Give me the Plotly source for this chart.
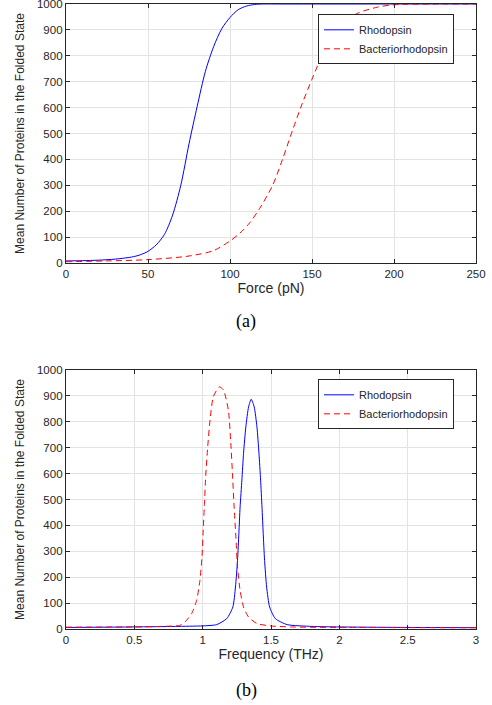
import plotly.graph_objects as go

# ---- (a) Force sweep ----
force_rho = [0, 10, 20, 30, 40, 45, 50, 55, 60, 65, 70, 75, 80, 85, 90, 95, 100, 105, 110, 115, 120, 130, 150, 200, 250]
rho_force = [8, 9, 11, 15, 23, 31, 45, 70, 110, 185, 300, 460, 605, 740, 835, 905, 948, 978, 992, 998, 1000, 1000, 1000, 1000, 1000]

force_br = [0, 25, 50, 75, 90, 100, 106, 112, 118, 126, 132, 138, 144, 150, 155, 160, 167, 177, 190, 200, 225, 250]
br_force = [5, 8, 13, 27, 48, 85, 115, 155, 210, 300, 400, 510, 615, 710, 785, 850, 915, 962, 988, 997, 1000, 1000]

# ---- (b) Frequency sweep ----
freq_rho = [0, 0.5, 0.8, 1.0, 1.103, 1.176, 1.221, 1.240, 1.255, 1.265, 1.274, 1.287, 1.299, 1.316, 1.336, 1.355,
            1.377, 1.397, 1.412, 1.424, 1.434, 1.443, 1.453, 1.468, 1.490, 1.532, 1.618, 1.8, 2.0, 2.5, 3.0]
rho_freq = [6, 8, 10, 12, 17, 40, 85, 162, 265, 369, 472, 575, 678, 781, 858, 887,
            858, 781, 678, 575, 472, 369, 265, 162, 85, 40, 17, 10, 8, 6, 5]

freq_br = [0, 0.5, 0.7, 0.833, 0.870, 0.919, 0.956, 0.980, 0.995, 1.005, 1.012, 1.022, 1.037, 1.054, 1.078, 1.122,
           1.152, 1.188, 1.206, 1.218, 1.230, 1.243, 1.255, 1.274, 1.299, 1.336, 1.397, 1.495, 1.642, 2.0, 3.0]
br_freq = [7, 8, 10, 14, 27, 59, 111, 188, 278, 394, 472, 588, 704, 807, 897, 935,
           923, 845, 716, 600, 472, 356, 240, 149, 85, 46, 21, 12, 8, 6, 5]

y_ticks = [0, 100, 200, 300, 400, 500, 600, 700, 800, 900, 1000]
force_ticks = [0, 50, 100, 150, 200, 250]
freq_ticks = [0, 0.5, 1, 1.5, 2, 2.5, 3]
freq_tick_labels = ["0", "0.5", "1", "1.5", "2", "2.5", "3"]

names = ["Rhodopsin", "Bacteriorhodopsin"]
BLUE = "#0000ff"
RED = "#ff0000"
AX = "#262626"
GRID = "#e3e3e3"
FONT = "Liberation Sans"

fig = go.Figure()
fig.add_trace(go.Scatter(x=force_rho, y=rho_force, mode="lines", name=names[0],
                         line=dict(color=BLUE, width=1, shape="spline", smoothing=0.8),
                         xaxis="x", yaxis="y", legend="legend"))
fig.add_trace(go.Scatter(x=force_br, y=br_force, mode="lines", name=names[1],
                         line=dict(color=RED, width=1, dash="6px,4px", shape="spline", smoothing=0.8),
                         xaxis="x", yaxis="y", legend="legend"))
fig.add_trace(go.Scatter(x=freq_rho, y=rho_freq, mode="lines", name=names[0],
                         line=dict(color=BLUE, width=1, shape="spline", smoothing=0.6),
                         xaxis="x2", yaxis="y2", legend="legend2"))
fig.add_trace(go.Scatter(x=freq_br, y=br_freq, mode="lines", name=names[1],
                         line=dict(color=RED, width=1, dash="6px,4px", shape="spline", smoothing=0.6),
                         xaxis="x2", yaxis="y2", legend="legend2"))

common_axis = dict(showline=True, linecolor=AX, linewidth=1.3, mirror="ticks",
                   ticks="inside", ticklen=4, tickcolor=AX, tickwidth=1,
                   showgrid=True, gridcolor=GRID, gridwidth=1, zeroline=False,
                   automargin=False, ticklabeloverflow="allow",
                   tickfont=dict(family=FONT, size=11.5, color=AX))

ytitle = dict(text="Mean Number of Proteins in the Folded State",
              font=dict(family=FONT, size=12, color=AX), standoff=9)

legend_common = dict(xanchor="left", yanchor="top",
                     bgcolor="white", bordercolor=AX, borderwidth=1,
                     font=dict(family=FONT, size=11, color=AX), tracegroupgap=0)

fig.update_layout(
    width=492, height=705,
    margin=dict(l=66, r=16, t=4, b=76, autoexpand=False),
    paper_bgcolor="white", plot_bgcolor="white",
    showlegend=True,
    xaxis=dict(domain=[0, 1], anchor="y", range=[0, 250], tickvals=force_ticks,
               title=dict(text="Force (pN)", font=dict(family=FONT, size=14, color=AX), standoff=4),
               **common_axis),
    yaxis=dict(domain=[0.5856, 1], anchor="x", range=[0, 1000], tickvals=y_ticks,
               title=ytitle, **common_axis),
    xaxis2=dict(domain=[0, 1], anchor="y2", range=[0, 3], tickvals=freq_ticks, ticktext=freq_tick_labels,
                title=dict(text="Frequency (THz)", font=dict(family=FONT, size=14, color=AX), standoff=4),
                **common_axis),
    yaxis2=dict(domain=[0, 0.4144], anchor="x2", range=[0, 1000], tickvals=y_ticks,
                title=ytitle, **common_axis),
    legend=dict(x=0.6146, y=0.9835, **legend_common),
    legend2=dict(x=0.6146, y=0.3995, **legend_common),
    annotations=[
        dict(text="(a)", x=0.44, y=322, xref="paper", yref="paper", showarrow=False,
             xanchor="center", yanchor="middle",
             font=dict(family="Liberation Serif", size=18, color="black")),
        dict(text="(b)", x=0.44, y=690, xref="paper", yref="paper", showarrow=False,
             xanchor="center", yanchor="middle",
             font=dict(family="Liberation Serif", size=18, color="black")),
    ],
)

# convert annotation pixel rows to paper coordinates
plot_top, plot_bottom = 4, 629
for ann in fig.layout.annotations:
    ann.y = (plot_bottom - ann.y) / (plot_bottom - plot_top)
    ann.x = (246 - 66) / 410

fig.write_html("out.html", config={"displayModeBar": False},
               post_script="document.body.style.margin='0';")
